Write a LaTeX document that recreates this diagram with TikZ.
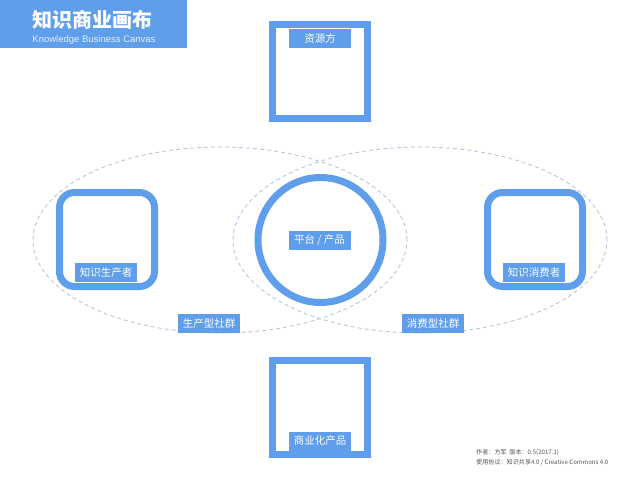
\documentclass[tikz,border=0pt]{standalone}
\usepackage{fontspec}
\setmainfont{Liberation Sans}
\newfontfamily\cjk{Noto Sans CJK SC}
\usetikzlibrary{shapes.geometric}
\definecolor{kblue}{HTML}{5E9EEA}
\definecolor{kdash}{HTML}{AFC3DE}
\definecolor{kgray}{HTML}{555555}
\tikzset{
  x=1pt,y=-1pt,
  frame/.style={draw=kblue,line width=7pt,fill=white,minimum width=95pt,minimum height=94pt,inner sep=0pt},
  tag/.style={fill=kblue,text=white,minimum width=62pt,minimum height=19pt,inner sep=0pt,font=\cjk\fontsize{10.5}{12}\selectfont},
  community/.style={draw=kdash,dash pattern=on 4pt off 3pt,line width=0.8pt,ellipse,minimum width=374pt,minimum height=186pt,inner sep=0pt},
  footer/.style={anchor=west,text=kgray,font=\cjk\fontsize{6.1}{7}\selectfont,inner sep=0pt},
}
\begin{document}
\begin{tikzpicture}
\useasboundingbox (0,0) rectangle (640,480);
\fill[white] (0,0) rectangle (640,480);
% banner
\node[fill=kblue,minimum width=187pt,minimum height=48pt,inner sep=0pt,anchor=north west] (banner) at (0,0) {};
\node[text=white,font=\cjk\bfseries\fontsize{20}{22}\selectfont] (title) at (92,20) {知识商业画布};
\node[text=white!85!kblue,font=\fontsize{9.5}{11}\selectfont] (subtitle) at (94,40.5) {Knowledge Business Canvas};
% communities
\node[community] (prodcom) at (220,240) {};
\node[community] (conscom) at (420,240) {};
% frames
\node[frame] (resource) at (320,71.5) {};
\node[frame] (commercial) at (320,407.5) {};
\node[frame,rounded corners=15pt] (producer) at (107,239.5) {};
\node[frame,rounded corners=15pt] (consumer) at (535,239.5) {};
\node[draw=kblue,line width=7pt,fill=white,circle,minimum size=125pt,inner sep=0pt] (platform) at (320.5,240) {};
% tags
\node[tag] (resourcetag) at (320,38.5) {资源方};
\node[tag] (commercialtag) at (320,441) {商业化产品};
\node[tag] (producertag) at (106,272.5) {知识生产者};
\node[tag] (consumertag) at (534,272.5) {知识消费者};
\node[tag] (platformtag) at (319.5,240.5) {平台 / 产品};
\node[tag] (prodcomtag) at (209,323.5) {生产型社群};
\node[tag] (conscomtag) at (433,323.5) {消费型社群};
% footer
\node[footer] (author) at (476,453) {作者：方军\ \ 版本：0.5(2017.1)};
\node[footer] (license) at (476,462) {使用协议：知识共享4.0 / Creative Commons 4.0};
\end{tikzpicture}
\end{document}
